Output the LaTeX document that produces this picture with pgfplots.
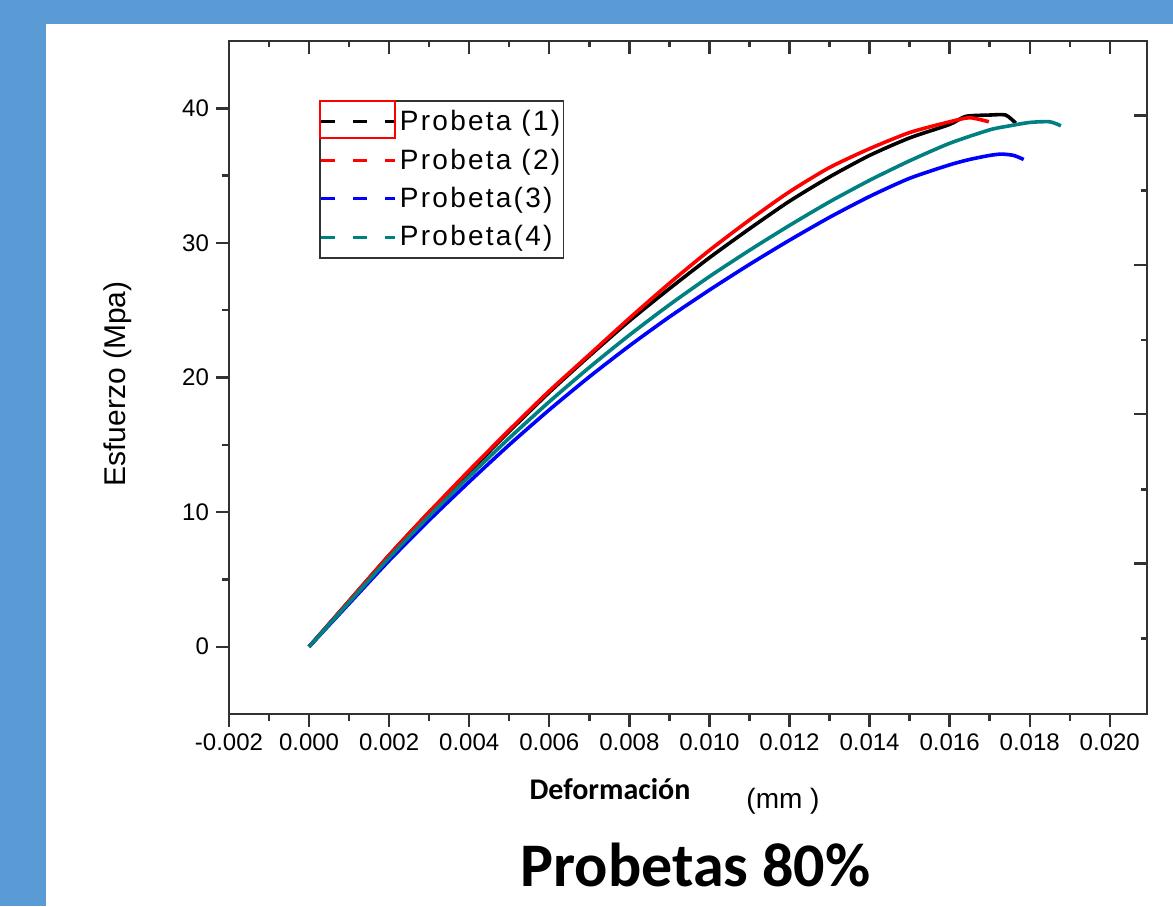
\documentclass[border=0pt]{standalone}
\usepackage{fontspec}
\setmainfont{Liberation Sans}
\newfontfamily\calibri{Carlito}
\newfontfamily\legendfont[LetterSpace=8]{Liberation Sans}
\usepackage{pgfplots}
\pgfplotsset{compat=1.18}
\definecolor{bgblue}{RGB}{91,155,213}
\definecolor{tealc}{RGB}{0,128,128}
\definecolor{axgray}{RGB}{50,50,50}

\begin{document}
\begin{tikzpicture}
% page background: blue band and white sheet (pixel units)
\begin{scope}[x=0.5pt,y=-0.5pt]
\fill[bgblue] (0,0) rectangle (1173,906);
\fill[white] (46,24) rectangle (1173,906);
\end{scope}

\begin{axis}[
  at={(114.5pt,-357pt)}, anchor=south west,
  scale only axis, width=459pt, height=336.5pt,
  xmin=-0.002, xmax=0.02093, ymin=-5, ymax=45,
  scaled x ticks=false,
  xtick={-0.002,0,0.002,0.004,0.006,0.008,0.010,0.012,0.014,0.016,0.018,0.020},
  xticklabels={-0.002,0.000,0.002,0.004,0.006,0.008,0.010,0.012,0.014,0.016,0.018,0.020},
  minor xtick={-0.001,0.001,0.003,0.005,0.007,0.009,0.011,0.013,0.015,0.017,0.019},
  ytick={0,10,20,30,40},
  minor ytick={5,15,25,35},
  xtick pos=bottom, ytick pos=left, tick align=outside,
  major tick length=6.5pt, minor tick length=3.5pt,
  axis line style={axgray, line width=1.2pt},
  tick style={axgray, line width=1.2pt},
  /pgf/number format/assume math mode=true,
  ticklabel style={font=\fontsize{12}{14}\selectfont},
  legend cell align=left,
  legend style={at={(0.098,0.912)}, anchor=north west, draw=axgray,
    line width=0.8pt, inner xsep=0pt, inner ysep=3pt, row sep=4.4pt,
    font=\legendfont\fontsize{14}{16}\selectfont,
    nodes={inner sep=1.6pt}},
  legend image code/.code={\draw[#1, dash pattern=on 7pt off 9pt, line width=1.5pt] (0pt,0pt) -- (37pt,0pt);},
  every axis plot/.append style={smooth, tension=0.4, line join=round},
]
\addplot[black, line width=1.8pt] coordinates {
(0,0) (0.001,3.4) (0.002,6.8) (0.003,10.0) (0.004,13.0) (0.005,16.0)
(0.006,18.9) (0.007,21.6) (0.008,24.2) (0.009,26.6) (0.010,28.9)
(0.011,31.05) (0.012,33.1) (0.013,34.9) (0.014,36.5) (0.015,37.8)
(0.016,38.8) (0.0164,39.4) (0.017,39.5) (0.0174,39.5) (0.01765,38.9)};
\addlegendentry{Probeta (1)}
\addplot[red, line width=1.8pt] coordinates {
(0,0) (0.001,3.4) (0.002,6.8) (0.003,10.0) (0.004,13.1) (0.005,16.1)
(0.006,19.0) (0.007,21.7) (0.008,24.4) (0.009,27.0) (0.010,29.45)
(0.011,31.7) (0.012,33.8) (0.013,35.6) (0.014,37.0) (0.015,38.2)
(0.016,39.0) (0.0165,39.3) (0.01698,39.0)};
\addlegendentry{Probeta (2)}
\addplot[blue, line width=1.8pt] coordinates {
(0,0) (0.001,3.2) (0.002,6.4) (0.003,9.4) (0.004,12.25) (0.005,15.0)
(0.006,17.6) (0.007,20.05) (0.008,22.35) (0.009,24.5) (0.010,26.5)
(0.011,28.4) (0.012,30.2) (0.013,31.9) (0.014,33.45) (0.015,34.8)
(0.016,35.8) (0.0165,36.2) (0.017,36.5) (0.0173,36.6) (0.0176,36.5) (0.01785,36.2)};
\addlegendentry{Probeta(3)}
\addplot[tealc, line width=1.8pt] coordinates {
(0,0) (0.001,3.3) (0.002,6.6) (0.003,9.7) (0.004,12.65) (0.005,15.5)
(0.006,18.2) (0.007,20.75) (0.008,23.15) (0.009,25.4) (0.010,27.5)
(0.011,29.45) (0.012,31.3) (0.013,33.05) (0.014,34.65) (0.015,36.1)
(0.016,37.4) (0.017,38.4) (0.0175,38.7) (0.018,38.95) (0.0185,39.0) (0.01878,38.7)};
\addlegendentry{Probeta(4)}
\end{axis}

% top and right ticks point inward
\begin{axis}[
  at={(114.5pt,-357pt)}, anchor=south west,
  scale only axis, width=459pt, height=336.5pt,
  xmin=-0.002, xmax=0.02093, ymin=-5, ymax=45,
  scaled x ticks=false,
  axis x line*=top, axis y line*=right, tick align=inside,
  xtick={-0.002,0,0.002,0.004,0.006,0.008,0.010,0.012,0.014,0.016,0.018,0.020},
  minor xtick={-0.001,0.001,0.003,0.005,0.007,0.009,0.011,0.013,0.015,0.017,0.019},
  ytick={39.46,28.37,17.27,6.18},
  minor ytick={33.88,22.78,11.69,0.6},
  xticklabels={}, yticklabels={},
  major tick length=6.5pt, minor tick length=3pt,
  axis line style={axgray, line width=1.2pt},
  tick style={axgray, line width=1.2pt},
]
\addplot[draw=none] coordinates {(0,0)};
\end{axis}

\begin{scope}[x=0.5pt,y=-0.5pt]
\draw[red, line width=0.6pt] (320,101) rectangle (395,138);
\node[rotate=90, font=\fontsize{15}{18}\selectfont] at (118,384) {Esfuerzo (Mpa)};
\node[anchor=base, font=\calibri\bfseries\fontsize{15}{18}\selectfont] at (610,799) {Deformación};
\node[anchor=base, font=\fontsize{14}{17}\selectfont] at (783,808) {(mm )};
\node[anchor=base west, inner sep=0pt, font=\calibri\bfseries\fontsize{31}{36}\selectfont] at (520,886) {Probetas 80\%};
\pgfresetboundingbox
\path[use as bounding box] (0,0) rectangle (1173,906);
\end{scope}
\end{tikzpicture}
\end{document}
